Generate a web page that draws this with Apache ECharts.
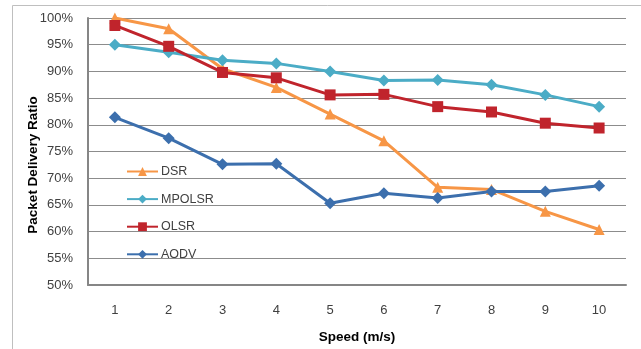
<!DOCTYPE html>
<html><head><meta charset="utf-8">
<script src="https://cdn.jsdelivr.net/npm/echarts@6/dist/echarts.min.js"></script>
<style>html,body{margin:0;padding:0;background:#fff}#c{width:641px;height:349px}</style>
</head><body><div id="c"></div>
<script>
const categories = ['1','2','3','4','5','6','7','8','9','10'];
const dsr    = [100.0, 98.0, 90.5, 87.0, 82.0, 77.0, 68.3, 67.9, 63.8, 60.4];
const mpolsr = [95.0, 93.6, 92.1, 91.5, 90.0, 88.3, 88.4, 87.5, 85.6, 83.4];
const olsr   = [98.6, 94.7, 89.8, 88.8, 85.6, 85.7, 83.4, 82.4, 80.3, 79.4];
const aodv   = [81.4, 77.5, 72.6, 72.7, 65.3, 67.2, 66.3, 67.5, 67.5, 68.6];
const yTitle = 'Packet Delivery Ratio';
const xTitle = 'Speed (m/s)';

const FONT = 'Liberation Sans';
const chart = echarts.init(document.getElementById('c'));
function mk(name, data, color, symbol, size) {
  return {name, type:'line', data, symbol, symbolSize:size,
    lineStyle:{color, width:3}, itemStyle:{color}, animation:false};
}
chart.setOption({
  animation:false,
  textStyle:{fontFamily:FONT},
  graphic:[
    {type:'rect', shape:{x:12.5,y:5.5,width:640,height:360},
      style:{fill:'none', stroke:'#bfbfbf', lineWidth:1}, silent:true},
    {type:'text', x:33, y:165, rotation:Math.PI/2,
      style:{text:yTitle, font:'bold 13.5px "Liberation Sans"', fill:'#000',
        align:'center', verticalAlign:'middle'}}
  ],
  grid:{left:88, right:15, top:18, bottom:64, containLabel:false},
  legend:{orient:'vertical', left:126, top:165, padding:0, itemWidth:31, itemHeight:11, itemGap:14.6,
    textStyle:{fontSize:12.5, color:'#404040', fontFamily:FONT, padding:[0,0,0,-2]},
    data:['DSR','MPOLSR','OLSR','AODV']},
  xAxis:{type:'category', data:categories, boundaryGap:true,
    name:xTitle, nameLocation:'middle', nameGap:45,
    nameTextStyle:{fontWeight:'bold', fontSize:13.5, color:'#000'},
    axisLine:{lineStyle:{color:'#868686', width:2}}, axisTick:{show:false},
    axisLabel:{fontSize:13, color:'#404040', margin:19}},
  yAxis:{type:'value', min:50, max:100, interval:5,
    axisLine:{show:true, lineStyle:{color:'#868686', width:2}}, axisTick:{show:false},
    axisLabel:{fontSize:13, color:'#404040', margin:15, formatter:v=>v+'%'},
    splitLine:{lineStyle:{color:'#8c8c8c', width:1}}},
  series:[
    mk('DSR', dsr, '#F79646', 'triangle', 11),
    mk('MPOLSR', mpolsr, '#4BACC6', 'diamond', 12),
    mk('OLSR', olsr, '#C0242C', 'rect', 11),
    mk('AODV', aodv, '#3C6FAD', 'diamond', 12)
  ]
});
</script></body></html>
